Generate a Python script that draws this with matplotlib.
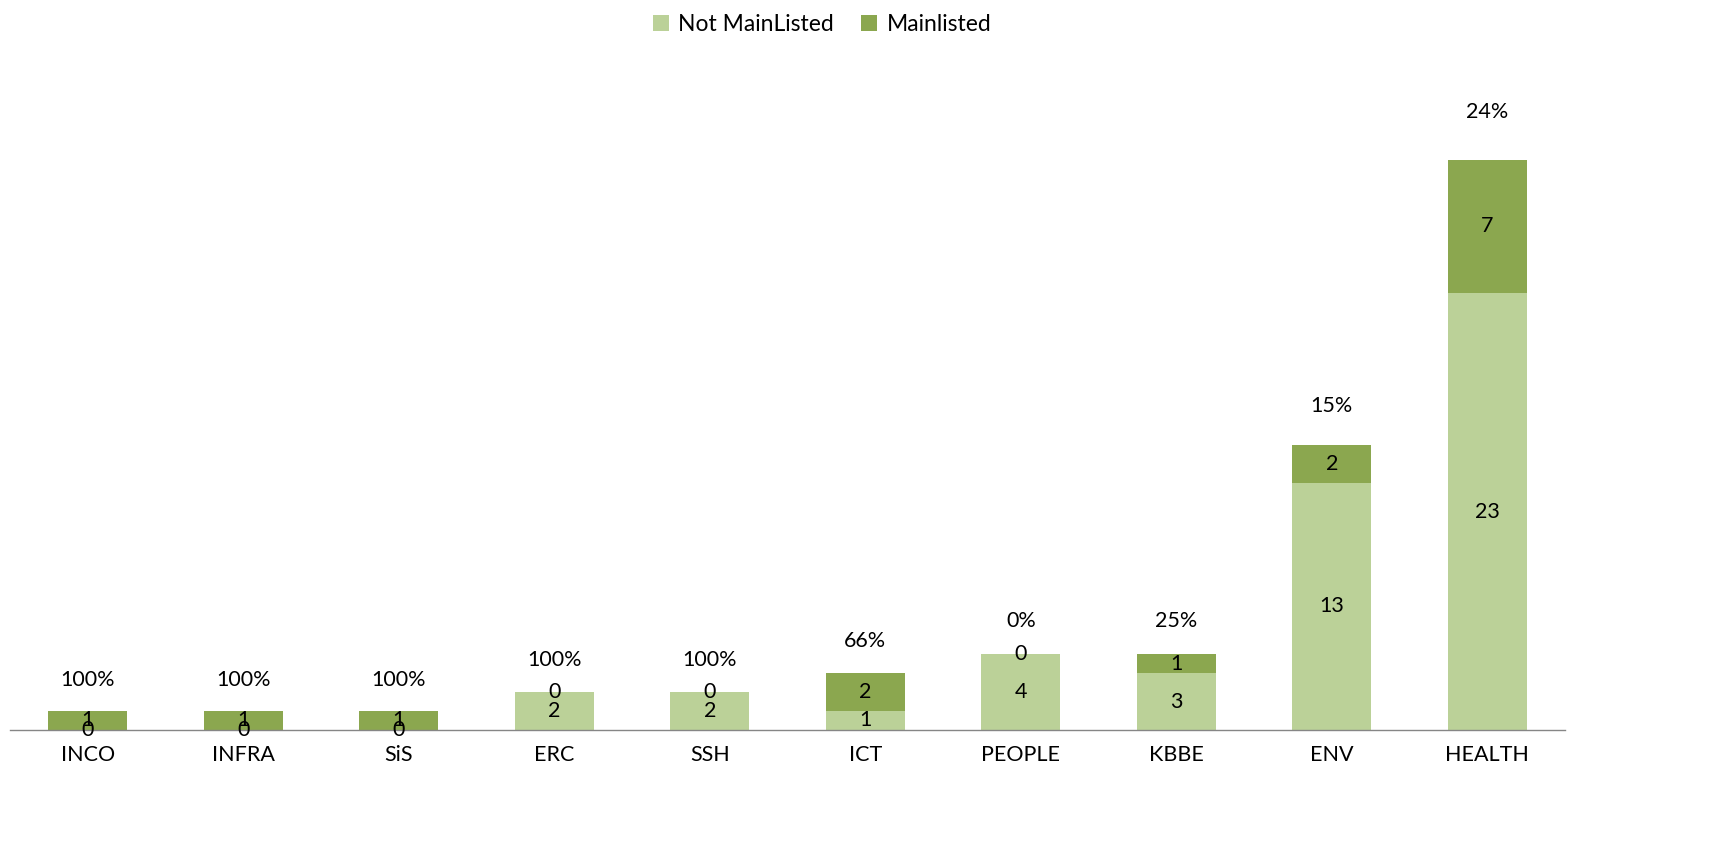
import matplotlib
matplotlib.use('Agg')
import matplotlib.pyplot as plt
import numpy as np

plt.rcParams['font.family'] = ['Lato', 'DejaVu Sans']

# 数据
categories = ['INCO', 'INFRA', 'SiS', 'ERC', 'SSH', 'ICT', 'PEOPLE', 'KBBE', 'ENV', 'HEALTH']
not_mainlisted = [0, 0, 0, 2, 2, 1, 4, 3, 13, 23]
mainlisted = [1, 1, 1, 0, 0, 2, 0, 1, 2, 7]
pct_labels = ['100%', '100%', '100%', '100%', '100%', '66%', '0%', '25%', '15%', '24%']

light = '#BBD198'
dark = '#8BA74F'

fig = plt.figure(figsize=(17.27, 8.51), dpi=100)
ax = fig.add_axes([10 / 1727, 1 - 730 / 851, 1555 / 1727, 665 / 851])

x = np.arange(len(categories))
w = 0.51
b1 = ax.bar(x, not_mainlisted, w, color=light, label='Not MainListed')
b2 = ax.bar(x, mainlisted, w, bottom=not_mainlisted, color=dark, label='Mainlisted')

# 每段中间的数字
for i in range(len(categories)):
    n = not_mainlisted[i]
    m = mainlisted[i]
    ax.text(x[i], n / 2, str(n), ha='center', va='center', fontsize=15.5)
    ax.text(x[i], n + m / 2, str(m), ha='center', va='center', fontsize=15.5)
    total = n + m
    ax.text(x[i], total + 1.6 + 0.03 * total, pct_labels[i], ha='center', va='center', fontsize=15.5)

ax.set_xlim(-0.5, len(categories) - 0.5)
ax.set_ylim(0, 35)
ax.set_xticks(x)
ax.set_xticklabels(categories, fontsize=15.5)
ax.tick_params(axis='x', length=0, pad=11)
ax.set_yticks([])
for s in ['top', 'right', 'left']:
    ax.spines[s].set_visible(False)
ax.spines['bottom'].set_color('#868686')
ax.spines['bottom'].set_linewidth(1.0)

fig.legend(handles=[b1, b2], loc='upper center', bbox_to_anchor=(822 / 1727, 1.008), ncol=2,
           frameon=False, fontsize=16.5, handlelength=0.7, handleheight=0.7,
           handletextpad=0.4, columnspacing=1.2)

fig.savefig('out.png', dpi=100)
